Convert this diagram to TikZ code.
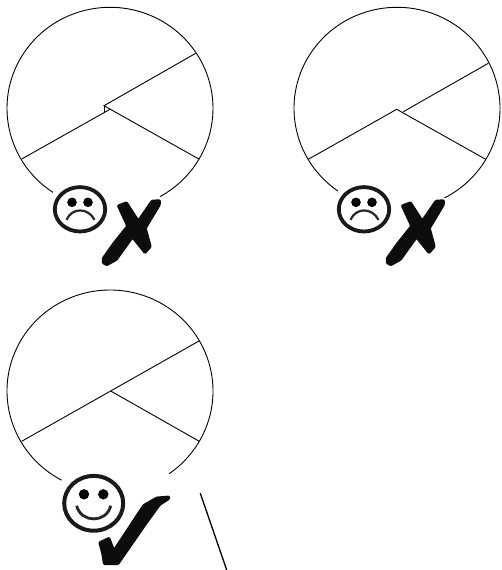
\documentclass[tikz,border=0pt]{standalone}
\tikzset{
    wheel/.style={line width=0.9pt},
    spoke/.style={line width=0.9pt},
    ink/.style={fill=black!95, draw=black!95, line width=1.5pt, rounded corners=1pt, line join=round},
    sadface/.pic={
        \draw[line width=3.8pt, black!90] (0,0) ellipse (25.2 and 22.2);
        \fill (-8,-7) circle (4.8);
        \fill (8,-7) circle (4.8);
        \draw[line width=2.2pt, black!85] (-13.5,10.5) .. controls (-8,-2) and (8,-2) .. (14.5,10.5);
    },
    gladface/.pic={
        \draw[line width=4pt, black!90] (0,0) ellipse (29.5 and 27.4);
        \fill (-9.7,-9) circle (5.2);
        \fill (9.6,-9) circle (5.2);
        \draw[line width=2.8pt, black!85] (-17,2.4) .. controls (-13,20) and (13,20) .. (17,2.4);
    },
    crossmark/.pic={
        \draw[ink] (102.5,258.3) -- (113.3,243) -- (127,226) -- (117.5,205.5) -- (126.7,202) -- (138.3,220)
            -- (151.7,200.5) -- (160,200) -- (160,205) -- (146,228.3) -- (151,246.7) -- (145,253.5)
            -- (132.5,238) -- (116.7,260) -- (106.7,265.5) -- (102.5,263) -- cycle;
    },
}
\begin{document}
\begin{tikzpicture}[x=1pt,y=-1pt]
    \useasboundingbox (0,0) rectangle (502,570);
    % top left
    \draw[wheel] (110,108.3) ++(123.6:103 and 101) arc[start angle=123.6, end angle=420.9, x radius=103, y radius=101];
    \draw[spoke] (195.7,53.3) -- (104,105.7) -- (199.3,159.3);
    \draw[spoke] (104,105.7) -- (104,112.5);
    \draw[spoke] (21.7,159) -- (110,109.3);
    \pic at (80,209.3) {sadface};
    \pic at (0,0) {crossmark};
    % top right
    \draw[wheel] (397,108.3) ++(125:103 and 101) arc[start angle=125, end angle=422.5, x radius=103, y radius=101];
    \draw[spoke] (308.3,159.3) -- (396.7,109.3) -- (485.7,159.3);
    \draw[spoke] (403.3,111.7) -- (488.3,63.3);
    \pic at (364,209.3) {sadface};
    \pic at (284,0) {crossmark};
    % bottom left
    \draw[wheel] (110,391) ++(118:103 and 101) arc[start angle=118, end angle=415, x radius=103, y radius=101];
    \draw[spoke] (21.7,441.3) -- (199,341);
    \draw[spoke] (110.7,391) -- (199.3,441.3);
    \pic at (93.7,503.3) {gladface};
    \draw[ink] (99,542.3) -- (109.3,537.5) -- (114,549.5) -- (143.3,505) -- (156.7,497.3)
        -- (169.3,496.3) -- (169.3,499) -- (160,505) -- (146.7,523.3) -- (118.3,564.3) -- (103.8,564.3) -- (102,553.3) -- cycle;
    \draw[line width=1.3pt] (200.3,493.3) -- (226.7,570);
\end{tikzpicture}
\end{document}
